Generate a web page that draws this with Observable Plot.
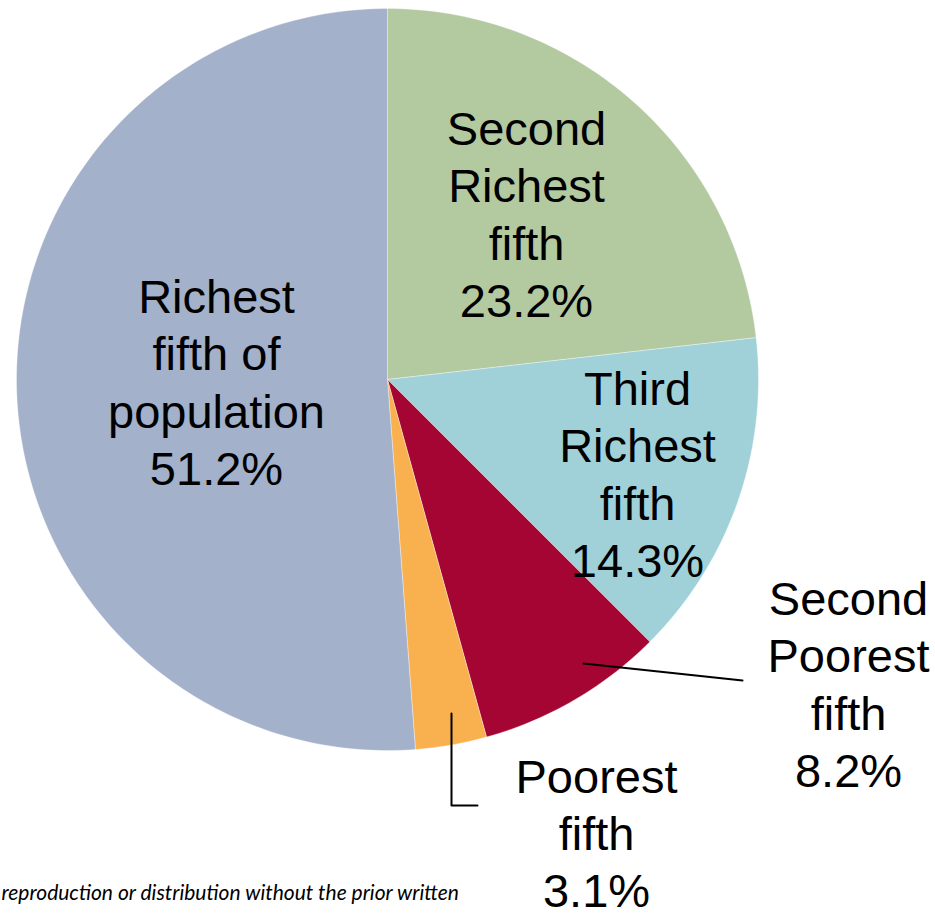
<!DOCTYPE html>
<html>
<head>
<meta charset="utf-8">
<script src="https://cdn.jsdelivr.net/npm/d3@7"></script>
<script src="https://cdn.jsdelivr.net/npm/@observablehq/plot@0.6"></script>
<style>
  html, body { margin: 0; padding: 0; background: #fff; }
  #chart svg { display: block; }
</style>
</head>
<body>
<div id="chart"></div>
<script>
// ---- Data ----
const groups = ["Second Richest fifth", "Third Richest fifth", "Second Poorest fifth", "Poorest fifth", "Richest fifth of population"];
const shares = [23.2, 14.3, 8.2, 3.1, 51.2];
const labelTexts = ["Second\nRichest\nfifth\n23.2%", "Third\nRichest\nfifth\n14.3%", "Second\nPoorest\nfifth\n8.2%", "Poorest\nfifth\n3.1%", "Richest\nfifth of\npopulation\n51.2%"];
const footnote = "reproduction or distribution without the prior written";

// ---- Style / layout (kept apart from data) ----
const colors = ["#B3C9A0", "#A0D1D9", "#A50533", "#F9B150", "#A3B1CB"];
const W = 935, H = 915;
const cx = 387, cy = 379, R = 371;
const toX = px => (px - cx) / R;
const toY = py => (cy - py) / R;
// label centres (pixels) converted to unit-circle coordinates
const labelPx = [[526, 212], [637, 472], [848, 682], [596, 831], [216, 380]];
const leaderPx = [
  [[583, 663], [742, 680]],
  [[451, 713], [451, 805], [477, 805]]
];

// ---- Build slice polygons from the shares ----
const total = d3.sum(shares);
const slices = [];
let acc = 0;
shares.forEach((v, i) => {
  const a0 = acc / total * 2 * Math.PI;
  acc += v;
  const a1 = acc / total * 2 * Math.PI;
  const n = Math.max(4, Math.ceil((a1 - a0) / (Math.PI / 180)));
  const pts = [{x: 0, y: 0}];
  for (let k = 0; k <= n; k++) {
    const a = a0 + (a1 - a0) * k / n;
    pts.push({x: Math.sin(a), y: Math.cos(a)});
  }
  pts.push({x: 0, y: 0});
  slices.push(pts);
});

const labels = groups.map((g, i) => ({text: labelTexts[i], x: toX(labelPx[i][0]), y: toY(labelPx[i][1])}));
const leaders = leaderPx.map(l => l.map(([px, py]) => ({x: toX(px), y: toY(py)})));

const marks = [
  ...slices.map((pts, i) => Plot.line(pts, {x: "x", y: "y", fill: colors[i], stroke: "#ffffff", strokeWidth: 0.5, strokeOpacity: 0.7})),
  ...leaders.map(pts => Plot.line(pts, {x: "x", y: "y", stroke: "#000", strokeWidth: 2})),
  Plot.text(labels, {x: "x", y: "y", text: "text", fontSize: 47, lineHeight: 1.22, fill: "#000", fontFamily: "Liberation Sans, Arial, sans-serif"}),
  Plot.text([footnote], {text: d => d, frameAnchor: "bottom-left", textAnchor: "start", lineAnchor: "bottom", dx: 1, dy: -16, fontSize: 21, fontStyle: "italic", fontFamily: "Lato, 'Open Sans', sans-serif", fill: "#000"})
];

const chart = Plot.plot({
  width: W,
  height: H,
  marginTop: 0, marginRight: 0, marginBottom: 0, marginLeft: 0,
  x: {domain: [-1, 1], range: [cx - R, cx + R], axis: null},
  y: {domain: [-1, 1], range: [cy + R, cy - R], axis: null},
  style: {background: "#fff", overflow: "visible"},
  marks
});
document.getElementById("chart").appendChild(chart);
</script>
</body>
</html>
